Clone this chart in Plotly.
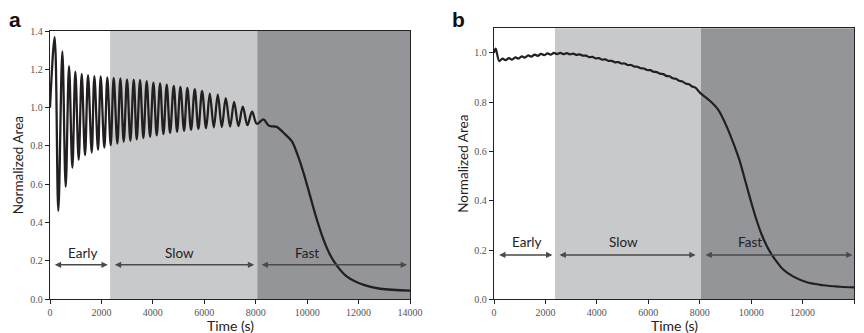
import plotly.graph_objects as go

# ---- Panel a: area trace (extrema and shape points, time in s) ----
time_a = [0, 182, 323, 480, 610, 740, 869, 986, 1115, 1233, 1362, 1479, 1622, 1725,
          1868, 1971, 2113, 2230, 2361, 2477, 2619, 2737, 2867, 2996, 3125, 3256,
          3373, 3502, 3631, 3760, 3891, 4021, 4150, 4280, 4410, 4540, 4669, 4813,
          4942, 5071, 5214, 5342, 5486, 5630, 5770, 5914, 6070, 6214, 6370, 6525,
          6681, 6836, 7004, 7160, 7327, 7498, 7677, 7860, 8043, 8300, 8500, 8660,
          8820, 9080, 9400, 9600, 9860, 10120, 10380, 10640, 10900, 11160, 11550,
          12200, 12840, 14000]
area_a = [1.000, 1.368, 0.461, 1.293, 0.588, 1.216, 0.687, 1.188, 0.728, 1.176, 0.752,
          1.169, 0.766, 1.165, 0.780, 1.163, 0.792, 1.158, 0.804, 1.155, 0.813, 1.153,
          0.822, 1.148, 0.827, 1.146, 0.834, 1.145, 0.841, 1.138, 0.848, 1.131, 0.855,
          1.126, 0.862, 1.120, 0.868, 1.113, 0.874, 1.108, 0.879, 1.103, 0.884, 1.097,
          0.889, 1.087, 0.893, 1.073, 0.897, 1.068, 0.899, 1.049, 0.901, 1.030, 0.904,
          1.005, 0.909, 0.979, 0.916, 0.939, 0.907, 0.902, 0.900, 0.869, 0.825, 0.764,
          0.660, 0.537, 0.415, 0.310, 0.230, 0.175, 0.118, 0.075, 0.055, 0.045]

# ---- Panel b: area trace ----
time_b = [0, 65, 205, 330, 450, 580, 700, 830, 950, 1080, 1200, 1330, 1450, 1580, 1700,
          1830, 1950, 2080, 2200, 2330, 2450, 2580, 2700, 2830, 2950, 3080, 3200, 3330,
          3450, 3580, 3700, 3830, 3950, 4080, 4200, 4330, 4450, 4580, 4700, 4830, 4950,
          5080, 5200, 5330, 5450, 5580, 5700, 5830, 5950, 6080, 6200, 6330, 6450, 6580,
          6700, 6830, 6950, 7080, 7200, 7330, 7450, 7580, 7700, 7830, 8016, 8405, 8728,
          9054, 9377, 9546, 9800, 10000, 10200, 10400, 10600, 10800, 11000, 11257,
          11646, 12167, 12813, 13463, 14000]
area_b = [1.000, 1.018, 0.967, 0.977, 0.971, 0.979, 0.973, 0.982, 0.977, 0.986, 0.981,
          0.990, 0.985, 0.993, 0.988, 0.996, 0.991, 0.998, 0.993, 1.000, 0.995, 1.000,
          0.995, 0.999, 0.994, 0.997, 0.992, 0.994, 0.989, 0.989, 0.983, 0.984, 0.978,
          0.979, 0.973, 0.974, 0.968, 0.968, 0.962, 0.963, 0.957, 0.957, 0.951, 0.951,
          0.945, 0.944, 0.938, 0.937, 0.931, 0.930, 0.924, 0.922, 0.916, 0.914, 0.907,
          0.905, 0.897, 0.895, 0.887, 0.884, 0.876, 0.873, 0.864, 0.859, 0.838, 0.805,
          0.768, 0.700, 0.615, 0.565, 0.470, 0.395, 0.325, 0.265, 0.218, 0.181, 0.152,
          0.120, 0.092, 0.069, 0.057, 0.051, 0.048]

# ---- Phase boundaries (s) and labels ----
phase_names = ["Early", "Slow", "Fast"]
phase_bounds_a = [0, 2335, 8060, 14000]
phase_bounds_b = [0, 2370, 8050, 14000]
arrow_spans_a = [(130, 2245), (2465, 7940), (8170, 13880)]
arrow_spans_b = [(143, 2270), (2490, 7840), (8170, 13940)]
label_x_a = [1270, 5030, 9990]
label_x_b = [1280, 5020, 9960]
arrow_level = 0.18

x_ticks = [0, 2000, 4000, 6000, 8000, 10000, 12000, 14000]
y_ticks_a = [0.0, 0.2, 0.4, 0.6, 0.8, 1.0, 1.2, 1.4]
y_ticks_b = [0.0, 0.2, 0.4, 0.6, 0.8, 1.0]

W, H = 864, 333
LINE = "#231f20"
LIGHT = "#c8c9cb"
DARK = "#939598"
ARROW = "#4a4a4a"
SANS = "Lato"
SERIF = "Liberation Serif"


def px(v, total):
    return v / total


fig = go.Figure()
fig.add_trace(go.Scatter(x=time_a, y=area_a, mode="lines", xaxis="x", yaxis="y",
                         line=dict(color=LINE, width=2.3, shape="spline", smoothing=1.0),
                         showlegend=False, hoverinfo="skip"))
fig.add_trace(go.Scatter(x=time_b, y=area_b, mode="lines", xaxis="x2", yaxis="y2",
                         line=dict(color=LINE, width=2.2, shape="spline", smoothing=1.0),
                         showlegend=False, hoverinfo="skip"))

shapes = []
annotations = []
for xr, yr, bounds, spans, lx in [("x", "y", phase_bounds_a, arrow_spans_a, label_x_a),
                                  ("x2", "y2", phase_bounds_b, arrow_spans_b, label_x_b)]:
    # shaded phase backgrounds
    for (x0, x1), col in zip([(bounds[1], bounds[2]), (bounds[2], bounds[3])], [LIGHT, DARK]):
        shapes.append(dict(type="rect", xref=xr, yref=f"{yr} domain", x0=x0, x1=x1,
                           y0=0, y1=1, fillcolor=col, line=dict(width=0), layer="below"))
    # double-headed phase arrows and their labels
    for (s, e), name, cx in zip(spans, phase_names, lx):
        annotations.append(dict(xref=xr, yref=yr, axref=xr, ayref=yr, x=e, y=arrow_level,
                                ax=s, ay=arrow_level, text="", showarrow=True,
                                arrowhead=2, startarrowhead=2, arrowside="end+start",
                                arrowsize=0.9, startarrowsize=0.9, arrowwidth=1.4,
                                arrowcolor=ARROW, standoff=0, startstandoff=0))
        annotations.append(dict(xref=xr, yref=yr, x=cx, y=arrow_level + 0.012,
                                text=name, showarrow=False, xanchor="center",
                                yanchor="bottom",
                                font=dict(family=SANS, size=13.5, color="#222")))

# domains in paper fractions (plot frames)
ax_a = [px(50, W), px(410, W)]
ax_b = [px(494, W), px(854, W)]
ydom_a = [1 - px(299.3, H), 1 - px(31, H)]
ydom_b = [1 - px(299.3, H), 1 - px(28.3, H)]

# axis titles and panel letters
for dom, ydom, letter, lxp in [(ax_a, ydom_a, "a", 15), (ax_b, ydom_b, "b", 458)]:
    annotations.append(dict(xref="paper", yref="paper", x=(dom[0] + dom[1]) / 2,
                            y=1 - px(325, H), text="Time (s)", showarrow=False,
                            xanchor="center", yanchor="middle",
                            font=dict(family=SANS, size=14, color="#222")))
    annotations.append(dict(xref="paper", yref="paper", x=px(lxp, W), y=1 - px(20, H),
                            text=f"<b>{letter}</b>", showarrow=False,
                            xanchor="center", yanchor="middle",
                            font=dict(family="Liberation Sans", size=21, color="#111")))
for xpos, ydom in [(18, ydom_a), (463, ydom_b)]:
    annotations.append(dict(xref="paper", yref="paper", x=px(xpos, W),
                            y=(ydom[0] + ydom[1]) / 2, text="Normalized Area",
                            textangle=-90, showarrow=False,
                            xanchor="center", yanchor="middle",
                            font=dict(family=SANS, size=13.5, color="#222")))

axis_common = dict(showgrid=False, zeroline=False, showline=True, mirror=True,
                   linecolor="#222", linewidth=1.3, ticks="outside", ticklen=4,
                   tickwidth=1, tickcolor="#222", automargin=False,
                   tickfont=dict(family=SERIF, size=10, color="#555"))

fig.update_layout(
    width=W, height=H, margin=dict(l=0, r=0, t=0, b=0),
    paper_bgcolor="white", plot_bgcolor="white",
    font=dict(family=SERIF),
    xaxis=dict(domain=ax_a, range=[0, 14000], tickvals=x_ticks,
               ticktext=[str(v) for v in x_ticks], anchor="y", **axis_common),
    yaxis=dict(domain=ydom_a, range=[0, 1.4], tickvals=y_ticks_a,
               ticktext=[f"{v:.1f}" for v in y_ticks_a], anchor="x", **axis_common),
    xaxis2=dict(domain=ax_b, range=[0, 14000], tickvals=x_ticks,
                ticktext=[str(v) for v in x_ticks], anchor="y2", **axis_common),
    yaxis2=dict(domain=ydom_b, range=[0, 1.1], tickvals=y_ticks_b,
                ticktext=[f"{v:.1f}" for v in y_ticks_b], anchor="x2", **axis_common),
    shapes=shapes, annotations=annotations,
)

fig.write_html("out.html")
